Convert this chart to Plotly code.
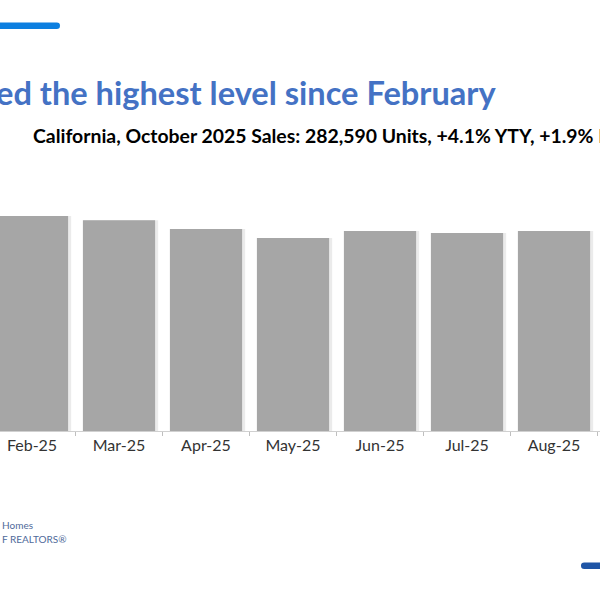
import plotly.graph_objects as go

# Data (visible part of the slide)
months = ["Feb-25", "Mar-25", "Apr-25", "May-25", "Jun-25", "Jul-25", "Aug-25"]
sales = [289570, 284000, 272000, 260000, 269500, 266800, 269500]

title_text = "ed the highest level since February"
subtitle_text = "California, October 2025 Sales: 282,590 Units, +4.1% YTY, +1.9% MTM"
footer1 = "Homes"
footer2 = "F REALTORS®"

W, H = 600, 600
base_px = 431
top_px = 150
units_per_px = 1347

def px(x):
    return x / W

def py(y):
    return 1 - y / H

fig = go.Figure()

# soft shadow
fig.add_trace(go.Bar(
    x=months, y=sales, width=0.86, offset=-0.41,
    marker=dict(color="rgba(0,0,0,0.08)", line=dict(width=0)),
    hoverinfo="skip", showlegend=False,
))
fig.add_trace(go.Bar(
    x=months, y=sales, width=0.83, offset=-0.415,
    marker=dict(color="#A6A6A6", line=dict(width=0)),
    showlegend=False,
))

fig.update_layout(
    width=W, height=H,
    margin=dict(l=0, r=0, t=0, b=0),
    paper_bgcolor="white", plot_bgcolor="white",
    barmode="overlay",
    font=dict(family="Lato", color="#404040"),
    xaxis=dict(
        range=[-32 / 87, 568 / 87],
        domain=[0, 1],
        tickson="boundaries",
        ticks="outside", ticklen=4, tickcolor="#bfbfbf", tickwidth=1,
        showline=True, linecolor="#d0d0d0", linewidth=1,
        tickfont=dict(family="Lato", size=16, color="#333333"),
        showgrid=False, zeroline=False, fixedrange=True,
    ),
    yaxis=dict(
        range=[0, units_per_px * (base_px - top_px)],
        domain=[py(base_px), py(top_px)],
        visible=False, showgrid=False, zeroline=False, fixedrange=True,
    ),
)

# decorative bars
def rounded_bar(x0, x1, y0, y1, round_left, round_right, color):
    r = (y1 - y0) / 2
    X = lambda v: f"{px(v):.5f}"
    Y = lambda v: f"{py(v):.5f}"
    if round_right and not round_left:
        path = (f"M {X(x0)},{Y(y0)} L {X(x1 - r)},{Y(y0)} "
                f"Q {X(x1)},{Y(y0)} {X(x1)},{Y((y0+y1)/2)} "
                f"Q {X(x1)},{Y(y1)} {X(x1 - r)},{Y(y1)} L {X(x0)},{Y(y1)} Z")
    else:
        path = (f"M {X(x1)},{Y(y0)} L {X(x0 + r)},{Y(y0)} "
                f"Q {X(x0)},{Y(y0)} {X(x0)},{Y((y0+y1)/2)} "
                f"Q {X(x0)},{Y(y1)} {X(x0 + r)},{Y(y1)} L {X(x1)},{Y(y1)} Z")
    fig.add_shape(type="path", path=path, xref="paper", yref="paper",
                  fillcolor=color, line=dict(width=0))

rounded_bar(-10, 60, 22.5, 29, False, True, "#0C7FE0")
rounded_bar(581, 610, 562.5, 569, True, False, "#1F55A6")

fig.add_annotation(
    text=title_text, xref="paper", yref="paper",
    x=px(498), y=py(92), xanchor="right", yanchor="middle",
    showarrow=False,
    font=dict(family="Lato", size=32.6, color="#4472C4", weight="bold"),
)
fig.add_annotation(
    text=subtitle_text, xref="paper", yref="paper",
    x=px(31), y=py(135), xanchor="left", yanchor="middle",
    showarrow=False,
    font=dict(family="Lato", size=19.4, color="#000000", weight="bold"),
)
fig.add_annotation(
    text=footer1, xref="paper", yref="paper",
    x=px(0), y=py(525), xanchor="left", yanchor="middle",
    showarrow=False, font=dict(family="Lato", size=10, color="#4F6A9A"),
)
fig.add_annotation(
    text=footer2, xref="paper", yref="paper",
    x=px(0), y=py(539), xanchor="left", yanchor="middle",
    showarrow=False, font=dict(family="Lato", size=10, color="#4F6A9A"),
)

fig.write_html("out.html", config={"displayModeBar": False},
               post_script="document.body.style.margin='0';")
